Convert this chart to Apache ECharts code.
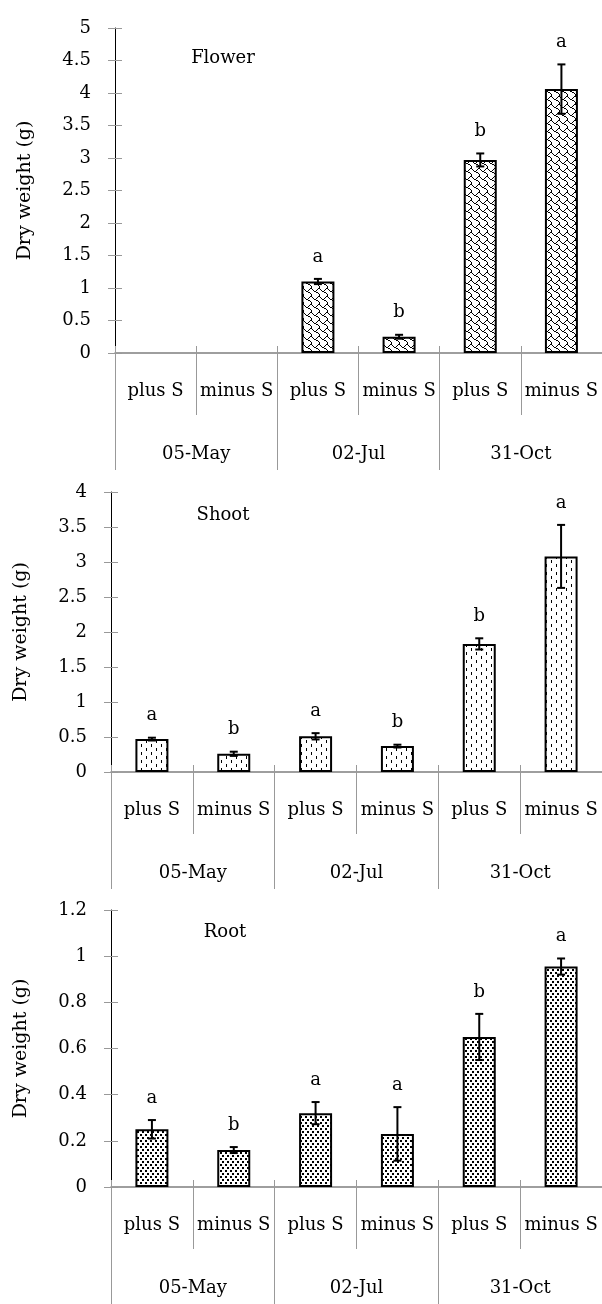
<!DOCTYPE html>
<html>
<head>
    <meta charset="utf-8">
    <title>Dry weight</title>
    <script src="https://cdn.jsdelivr.net/npm/echarts@6/dist/echarts.min.js"></script>
    <style>
        html, body { margin: 0; padding: 0; background: #fff; }
    </style>
</head>
<body>
<div id="main" style="width: 602px;height:1304px;"></div>
<script type="text/javascript">
    // categories
    var subCats = ['plus S', 'minus S', 'plus S', 'minus S', 'plus S', 'minus S'];
    var dates = ['05-May', '02-Jul', '31-Oct'];

    // flower
    var flowerMean = [null, null, 1.1, 0.25, 2.97, 4.06];
    var flowerErr = [null, null, 0.04, 0.03, 0.1, 0.38];
    var flowerSig = ['', '', 'a', 'b', 'b', 'a'];

    // shoot
    var shootMean = [0.47, 0.26, 0.51, 0.37, 1.83, 3.08];
    var shootErr = [0.02, 0.03, 0.045, 0.02, 0.08, 0.45];
    var shootSig = ['a', 'b', 'a', 'b', 'b', 'a'];

    // root
    var rootMean = [0.25, 0.16, 0.32, 0.23, 0.65, 0.955];
    var rootErr = [0.04, 0.013, 0.048, 0.116, 0.1, 0.035];
    var rootSig = ['a', 'b', 'a', 'a', 'b', 'a'];

    var FONT = 'DejaVu Serif';

    // hatch patterns drawn on small canvases
    function makeTile(w, h, draw) {
        var c = document.createElement('canvas');
        c.width = w; c.height = h;
        var ctx = c.getContext('2d');
        ctx.fillStyle = '#fff';
        ctx.fillRect(0, 0, w, h);
        ctx.fillStyle = '#000';
        draw(ctx);
        return c;
    }
    // 8x8 shingle bitmap
    var shingle = [0x03, 0x84, 0x48, 0x30, 0x0c, 0x02, 0x01, 0x01];
    var waveTile = makeTile(8, 8, function (ctx) {
        shingle.forEach(function (row, y) {
            for (var x = 0; x < 8; x++) {
                if (row & (0x80 >> x)) ctx.fillRect(x, y, 1, 1);
            }
        });
    });
    var dashTile = makeTile(10, 8, function (ctx) {
        ctx.fillRect(1, 0, 1, 3);
        ctx.fillRect(6, 4, 1, 3);
    });
    var dotTile = makeTile(10, 6, function (ctx) {
        ctx.fillRect(0, 0, 2, 2);
        ctx.fillRect(5, 0, 2, 2);
        ctx.fillRect(2, 3, 2, 2);
        ctx.fillRect(7, 3, 2, 2);
    });

    var panels = [
        {mean: flowerMean, err: flowerErr, sig: flowerSig, max: 5, step: 0.5, tile: waveTile,
            grid: {left: 115, right: 0, top: 28, height: 325}, title: 'Flower', tx: 223, ty: 58},
        {mean: shootMean, err: shootErr, sig: shootSig, max: 4, step: 0.5, tile: dashTile,
            grid: {left: 111, right: 0, top: 492, height: 280}, title: 'Shoot', tx: 223, ty: 515},
        {mean: rootMean, err: rootErr, sig: rootSig, max: 1.2, step: 0.2, tile: dotTile,
            grid: {left: 111, right: 0, top: 910, height: 277}, title: 'Root', tx: 225, ty: 932}
    ];

    var grids = [], xAxes = [], yAxes = [], series = [], graphics = [];

    panels.forEach(function (p, i) {
        grids.push(p.grid);

        // sub category axis
        xAxes.push({
            gridIndex: i, type: 'category', data: subCats, position: 'bottom',
            axisLine: {show: true, onZero: false, lineStyle: {color: '#7f7f7f', width: 1.5}},
            axisTick: {show: true, interval: 0, length: 62, lineStyle: {color: '#999', width: 1}},
            axisLabel: {interval: 0, margin: 29, fontSize: 18, fontFamily: FONT, color: '#000'}
        });
        // small upward tick marks
        xAxes.push({
            gridIndex: i, type: 'category', data: subCats, position: 'bottom',
            axisLine: {show: false, onZero: false},
            axisTick: {show: true, inside: true, interval: 0, length: 7, lineStyle: {color: '#999', width: 1}},
            axisLabel: {show: false}
        });
        // date axis
        xAxes.push({
            gridIndex: i, type: 'category', data: dates, position: 'bottom',
            axisLine: {show: false, onZero: false},
            axisTick: {show: true, interval: 0, length: 117, lineStyle: {color: '#999', width: 1}},
            axisLabel: {interval: 0, margin: 92, fontSize: 18, fontFamily: FONT, color: '#000'}
        });

        yAxes.push({
            gridIndex: i, type: 'value', min: 0, max: p.max, interval: p.step, position: 'left',
            name: 'Dry weight (g)', nameLocation: 'middle', nameGap: 80,
            nameTextStyle: {fontSize: 19, fontFamily: FONT, color: '#000'},
            axisLine: {show: true, lineStyle: {color: '#000', width: 1}},
            axisTick: {show: true, length: 7, lineStyle: {color: '#999', width: 1}},
            axisLabel: {margin: 24, fontSize: 18, fontFamily: FONT, color: '#000',
                formatter: function (v) { return String(+v.toFixed(1)); }},
            splitLine: {show: false}
        });
        yAxes.push({
            gridIndex: i, type: 'value', min: 0, max: p.max, interval: p.step, position: 'left',
            axisLine: {show: false},
            axisTick: {show: true, inside: true, length: 7, lineStyle: {color: '#999', width: 1}},
            axisLabel: {show: false},
            splitLine: {show: false}
        });

        series.push({
            type: 'bar', xAxisIndex: 3 * i, yAxisIndex: 2 * i,
            data: p.mean, barWidth: 33,
            itemStyle: {color: {image: p.tile, repeat: 'repeat'}, borderColor: '#000', borderWidth: 2},
            silent: true, animation: false
        });

        var errData = p.mean.map(function (m, k) {
            return m == null ? [k, '-', '-'] : [k, m, p.err[k]];
        });
        series.push({
            type: 'custom', xAxisIndex: 3 * i, yAxisIndex: 2 * i,
            data: errData, animation: false, silent: true, z: 5,
            renderItem: function (params, api) {
                var k = api.value(0), m = api.value(1), e = api.value(2);
                if (isNaN(m)) return;
                var top = api.coord([k, m + e]);
                var bot = api.coord([k, m - e]);
                var style = {stroke: '#000', lineWidth: 2};
                return {
                    type: 'group',
                    children: [
                        {type: 'line', shape: {x1: top[0], y1: top[1], x2: bot[0], y2: bot[1]}, style: style},
                        {type: 'line', shape: {x1: top[0] - 4, y1: top[1], x2: top[0] + 4, y2: top[1]}, style: style},
                        {type: 'line', shape: {x1: bot[0] - 4, y1: bot[1], x2: bot[0] + 4, y2: bot[1]}, style: style},
                        {type: 'text', x: top[0], y: top[1] - 22,
                            style: {text: p.sig[params.dataIndex], fill: '#000', font: '18px "' + FONT + '"',
                                align: 'center', verticalAlign: 'middle'}}
                    ]
                };
            }
        });

        graphics.push({
            type: 'text', x: p.tx, y: p.ty,
            style: {text: p.title, fill: '#000', font: '18px "' + FONT + '"', align: 'center', verticalAlign: 'middle'}
        });
    });

    var myChart = echarts.init(document.getElementById('main'));
    myChart.setOption({
        backgroundColor: '#fff',
        animation: false,
        grid: grids,
        xAxis: xAxes,
        yAxis: yAxes,
        series: series,
        graphic: graphics
    });
</script>
</body>
</html>
